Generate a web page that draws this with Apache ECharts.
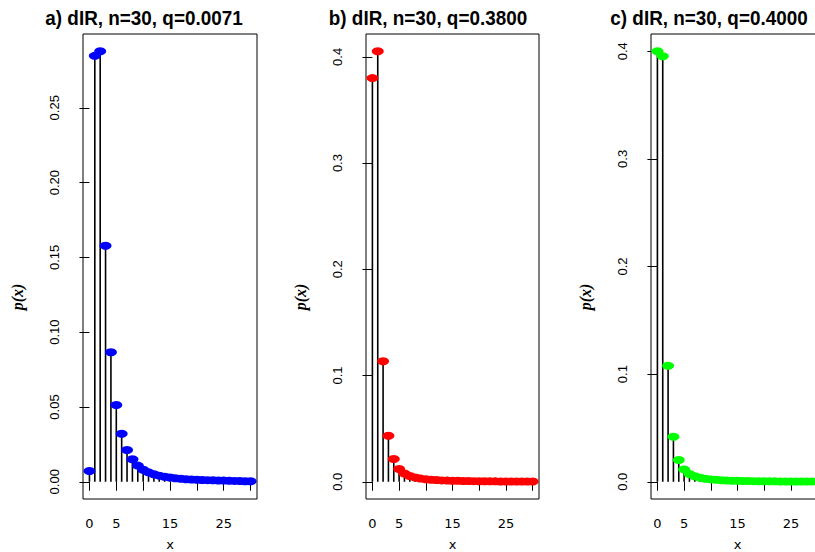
<!DOCTYPE html>
<html>
<head>
<meta charset="utf-8">
<script src="https://cdn.jsdelivr.net/npm/echarts@6/dist/echarts.min.js"></script>
<style>html,body{margin:0;padding:0;background:#fff}#chart{width:815px;height:552px}</style>
</head>
<body>
<div id="chart"></div>
<script>
var xValues = [0,1,2,3,4,5,6,7,8,9,10,11,12,13,14,15,16,17,18,19,20,21,22,23,24,25,26,27,28,29,30];
var seriesA = [0.0072,0.2847,0.2878,0.1578,0.0866,0.0513,0.0321,0.0212,0.0150,0.0108,0.0080,0.0063,0.0050,0.0041,0.0034,0.0028,0.0024,0.0020,0.0017,0.0015,0.0013,0.0012,0.0011,0.0010,0.0009,0.0008,0.0007,0.0006,0.0005,0.0004,0.0004];
var seriesB = [0.3800,0.4053,0.1135,0.0434,0.0214,0.0120,0.0078,0.0055,0.0040,0.0030,0.0024,0.0019,0.0016,0.0013,0.0011,0.0010,0.0009,0.0008,0.0007,0.0006,0.0005,0.0005,0.0004,0.0004,0.0003,0.0003,0.0003,0.0002,0.0002,0.0002,0.0002];
var seriesC = [0.4000,0.3953,0.1078,0.0418,0.0202,0.0115,0.0073,0.0051,0.0037,0.0028,0.0022,0.0018,0.0015,0.0012,0.0010,0.0009,0.0008,0.0007,0.0006,0.0005,0.0005,0.0004,0.0004,0.0003,0.0003,0.0003,0.0002,0.0002,0.0002,0.0002,0.0002];
var titles = ['a) dIR, n=30, q=0.0071', 'b) dIR, n=30, q=0.3800', 'c) dIR, n=30, q=0.4000'];
var xTickValues = [0,5,10,15,20,25,30];
var xLabelValues = [0,5,15,25];
var yTicksA = [0,0.05,0.10,0.15,0.20,0.25];
var yTicksBC = [0,0.1,0.2,0.3,0.4];
var yDigits = [2,1,1];
var xAxisTitle = 'x';
var yAxisTitle = 'p(x)';
var colors = ['#0000FF','#FF0000','#00FF00'];

var panels = [
  {data: seriesA, yTicks: yTicksA, grid: {left: 83, top: 34, width: 174, height: 465}, titleX: 144, ylabX: 17},
  {data: seriesB, yTicks: yTicksBC, grid: {left: 366, top: 34, width: 173, height: 465}, titleX: 428, ylabX: 300},
  {data: seriesC, yTicks: yTicksBC, grid: {left: 651, top: 34, width: 173, height: 465}, titleX: 709, ylabX: 585}
];

var grids = [], xAxes = [], yAxes = [], series = [], graphics = [];
panels.forEach(function (p, i) {
  var ymax = Math.max.apply(null, p.data);
  var xmin = Math.min.apply(null, xValues), xmax = Math.max.apply(null, xValues);
  var xr = xmax - xmin;
  grids.push({left: p.grid.left, top: p.grid.top, width: p.grid.width, height: p.grid.height,
    outerBoundsMode: 'none', containLabel: false,
    show: true, borderColor: '#000', borderWidth: 1, backgroundColor: 'transparent'});
  xAxes.push({
    type: 'value', gridIndex: i, min: xmin - 0.04 * xr, max: xmax + 0.04 * xr,
    axisLine: {show: false}, splitLine: {show: false},
    axisTick: {show: true, inside: false, length: 9, lineStyle: {color: '#000', width: 1}, customValues: xTickValues},
    axisLabel: {customValues: xLabelValues, margin: 18, color: '#000', fontSize: 13, fontFamily: 'DejaVu Sans'},
    name: xAxisTitle, nameLocation: 'middle', nameGap: 39,
    nameTextStyle: {color: '#000', fontSize: 13, lineHeight: 13, fontFamily: 'DejaVu Sans'}
  });
  var d = yDigits[i];
  yAxes.push({
    type: 'value', gridIndex: i, min: -0.04 * ymax, max: 1.04 * ymax,
    axisLine: {show: false}, splitLine: {show: false},
    axisTick: {show: true, inside: false, length: 10, lineStyle: {color: '#000', width: 1}, customValues: p.yTicks},
    axisLabel: {customValues: p.yTicks, rotate: 90, margin: 22, color: '#000', fontSize: 13,
      fontFamily: "'Liberation Sans', Arial, sans-serif",
      formatter: function (v) { return Number(v).toFixed(d); }}
  });
  series.push({
    type: 'bar', xAxisIndex: i, yAxisIndex: i, barWidth: 1.6, silent: true,
    itemStyle: {color: '#000'}, data: xValues.map(function (x, k) { return [x, p.data[k]]; }), z: 2
  });
  series.push({
    type: 'scatter', xAxisIndex: i, yAxisIndex: i, symbol: 'circle', symbolSize: [12, 8], silent: true,
    itemStyle: {color: colors[i], opacity: 1}, data: xValues.map(function (x, k) { return [x, p.data[k]]; }), z: 3
  });
  graphics.push({type: 'text', x: p.titleX, y: 18, scaleX: 0.9, style: {text: titles[i], fill: '#000',
    font: "bold 21px 'Liberation Sans', Arial, sans-serif",
    align: 'center', verticalAlign: 'middle'}});
  graphics.push({type: 'text', x: p.ylabX, y: 297, rotation: Math.PI / 2, style: {text: yAxisTitle, fill: '#000',
    font: "italic bold 16px 'Liberation Serif', serif", align: 'center', verticalAlign: 'middle'}});
});

var chart = echarts.init(document.getElementById('chart'), null, {renderer: 'svg'});
chart.setOption({
  animation: false,
  backgroundColor: '#fff',
  grid: grids, xAxis: xAxes, yAxis: yAxes, series: series, graphic: graphics
});
</script>
</body>
</html>
